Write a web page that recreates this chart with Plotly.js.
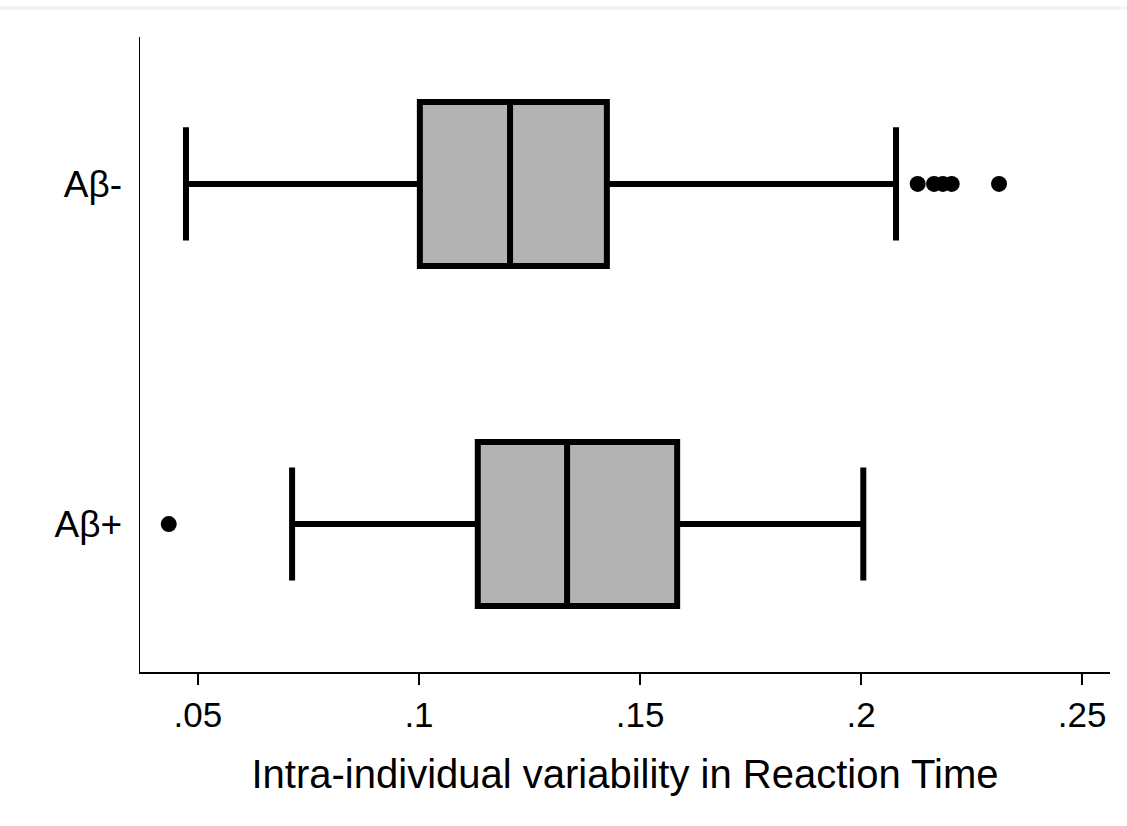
<!DOCTYPE html>
<html>
<head>
<meta charset="utf-8">
<script src="https://cdn.plot.ly/plotly-3.0.1.min.js"></script>
<style>html,body{margin:0;padding:0;background:#fff;}#chart{width:1127px;height:826px;}</style>
</head>
<body>
<div id="chart"></div>
<script>
// Group labels
var groups = ['Aβ-', 'Aβ+'];
// Box statistics
var q1 = [0.1002, 0.1133];
var medians = [0.1206, 0.1335];
var q3 = [0.1425, 0.1584];
var lowerWhisker = [0.0473, 0.0713];
var upperWhisker = [0.2079, 0.2005];
// Outliers
var outlierGroup = ['Aβ-', 'Aβ-', 'Aβ-', 'Aβ-', 'Aβ-', 'Aβ+'];
var outlierValue = [0.2128, 0.2165, 0.2185, 0.2205, 0.2312, 0.0434];
// Axis ticks
var xTickVals = [0.05, 0.1, 0.15, 0.2, 0.25];
var xTickText = ['.05', '.1', '.15', '.2', '.25'];

var font = 'Liberation Sans, Arial, sans-serif';

var boxTrace = {
  type: 'box',
  orientation: 'h',
  y: groups,
  q1: q1,
  median: medians,
  q3: q3,
  lowerfence: lowerWhisker,
  upperfence: upperWhisker,
  width: 0.482,
  whiskerwidth: 0.69,
  fillcolor: 'rgb(179,179,179)',
  line: {color: '#000', width: 6},
  boxpoints: false,
  hoverinfo: 'skip',
  showlegend: false
};

var outTrace = {
  type: 'scatter',
  mode: 'markers',
  x: outlierValue,
  y: outlierGroup,
  marker: {color: '#000', size: 16},
  hoverinfo: 'skip',
  showlegend: false
};

var layout = {
  width: 1127,
  height: 826,
  margin: {l: 140, r: 17, t: 37, b: 154},
  paper_bgcolor: '#fff',
  plot_bgcolor: '#fff',
  showlegend: false,
  font: {family: font, color: '#000'},
  xaxis: {
    range: [0.0369, 0.2563],
    tickvals: xTickVals,
    ticktext: xTickText,
    ticks: 'outside',
    ticklen: 11,
    tickwidth: 1.5,
    tickcolor: '#000',
    showline: true,
    linecolor: '#000',
    linewidth: 1.5,
    showgrid: false,
    zeroline: false,
    tickfont: {size: 35, family: font, color: '#000'},
    title: {text: 'Intra-individual variability in Reaction Time', font: {size: 40, family: font, color: '#000'}, standoff: 27}
  },
  yaxis: {
    type: 'category',
    categoryorder: 'array',
    categoryarray: groups,
    range: [1.435, -0.432],
    ticks: '',
    ticklabelstandoff: 9,
    showline: true,
    linecolor: '#000',
    linewidth: 1.5,
    showgrid: false,
    zeroline: false,
    tickfont: {size: 37, family: font, color: '#000'}
  },
  shapes: [{
    type: 'line', xref: 'paper', yref: 'paper',
    x0: -0.2, x1: 1.1, y0: 1 + 29/635, y1: 1 + 29/635,
    line: {color: '#eef2f6', width: 3}
  }]
};

Plotly.newPlot('chart', [boxTrace, outTrace], layout, {staticPlot: true, displayModeBar: false});
</script>
</body>
</html>
